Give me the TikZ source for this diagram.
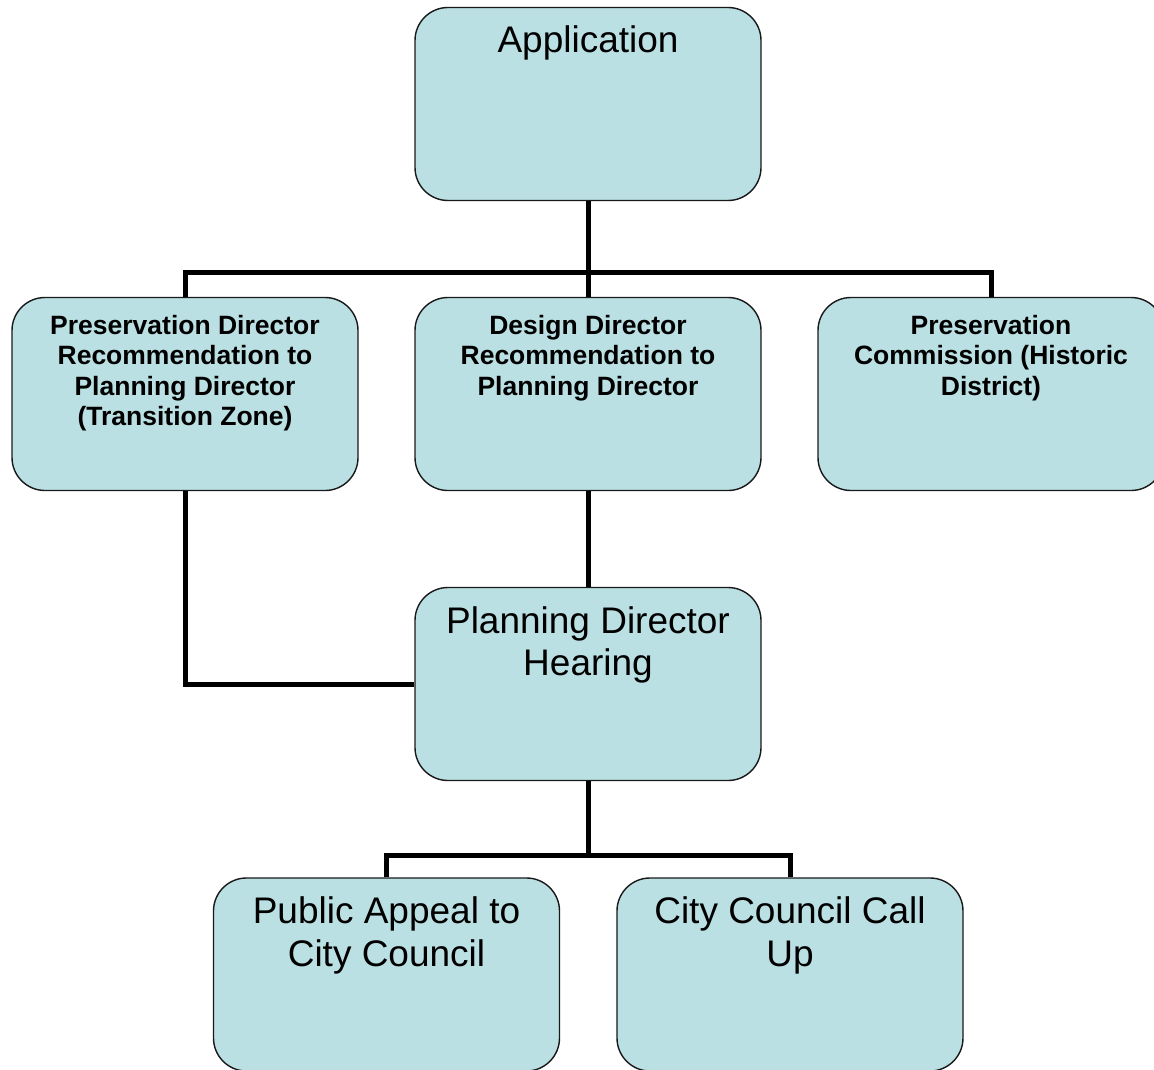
\documentclass[tikz,border=0pt]{standalone}
\usepackage{fontspec}
\setmainfont{Liberation Sans}
\begin{document}
\begin{tikzpicture}[x=1pt,y=-1pt,
  box/.style={draw=black!90,line width=1.4pt,fill=boxfill,rounded corners=33pt,
    minimum width=346pt,minimum height=193pt,inner sep=0pt},
  bigtxt/.style={anchor=north,inner sep=0pt,align=center,font=\fontsize{37}{42.5}\selectfont},
  smalltxt/.style={anchor=north,inner sep=0pt,align=center,font=\fontsize{26.5}{30.5}\selectfont\bfseries},
  conn/.style={line width=5pt,draw=black}]
\definecolor{boxfill}{RGB}{187,224,227}
\useasboundingbox (0,0) rectangle (1154,1070);
\clip (0,0) rectangle (1154,1070);
% boxes
\node[box] (app) at (588,104) {};
\node[box] (pdr) at (185,394) {};
\node[box] (ddr) at (588,394) {};
\node[box] (pcm) at (991,394) {};
\node[box] (pdh) at (588,684) {};
\node[box] (pub) at (386.5,974.5) {};
\node[box] (ccc) at (790,974.5) {};
% junction points
\coordinate (j1) at (588,272);
\coordinate (j2) at (588,855);
% texts
\node[bigtxt] (tapp) at ([yshift=-18.5pt]app.north) {Application};
\node[smalltxt] (tpdr) at ([yshift=-18pt]pdr.north) {Preservation Director\\Recommendation to\\Planning Director\\(Transition Zone)};
\node[smalltxt] (tddr) at ([yshift=-18pt]ddr.north) {Design Director\\Recommendation to\\Planning Director};
\node[smalltxt] (tpcm) at ([yshift=-18pt]pcm.north) {Preservation\\Commission (Historic\\District)};
\node[bigtxt] (tpdh) at ([yshift=-19.5pt]pdh.north) {Planning Director\\Hearing};
\node[bigtxt] (tpub) at ([yshift=-19.5pt]pub.north) {Public Appeal to\\City Council};
\node[bigtxt] (tccc) at ([yshift=-19.5pt]ccc.north) {City Council Call\\Up};
% connectors, ending at box borders
\draw[conn] (app.south) -- (j1);
\draw[conn] (pdr.north) |- (j1) -| (pcm.north);
\draw[conn] (j1) -- (ddr.north);
\draw[conn] (ddr.south) -- (pdh.north);
\draw[conn] (pdr.south) |- (pdh.west);
\draw[conn] (pdh.south) -- (j2);
\draw[conn] (pub.north) |- (j2) -| (ccc.north);
\end{tikzpicture}
\end{document}
